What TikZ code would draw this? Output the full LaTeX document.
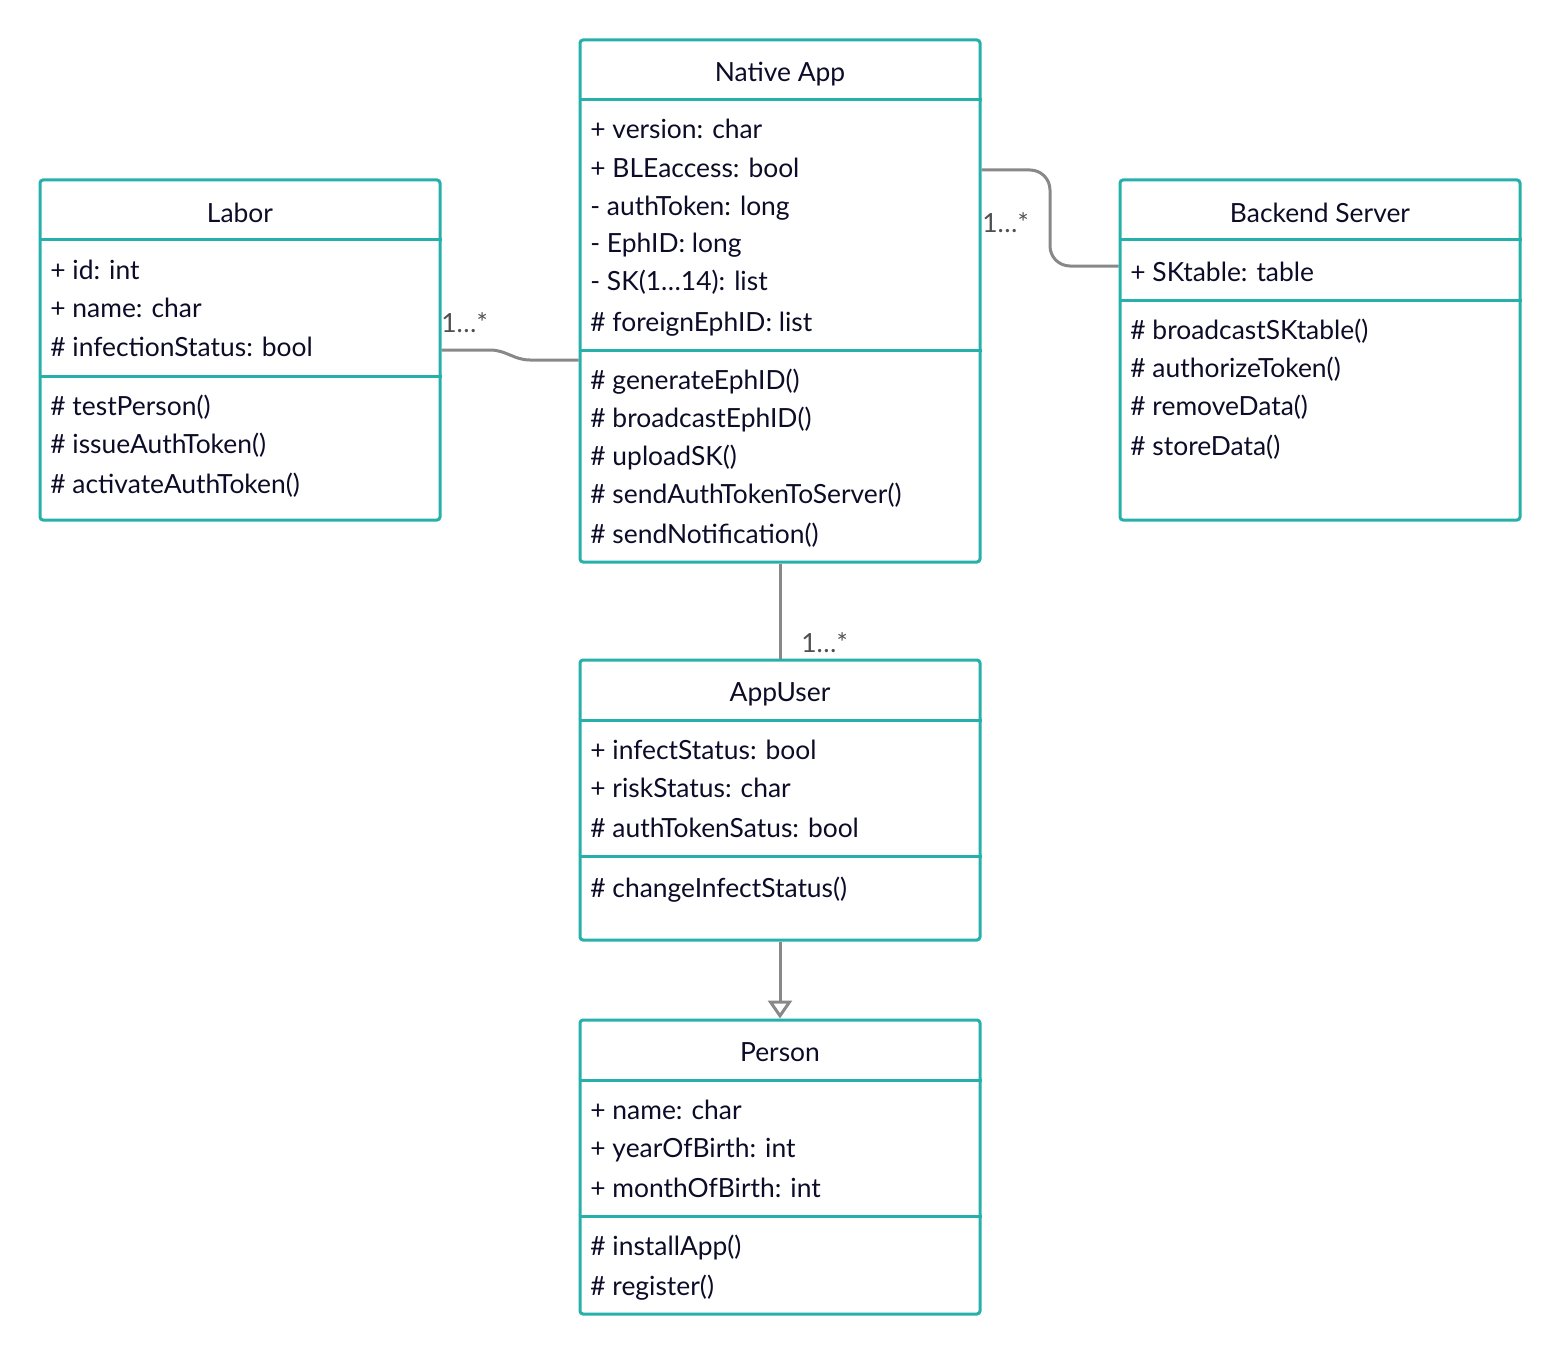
\documentclass[tikz,border=0pt]{standalone}
\usepackage{fontspec}
\setmainfont{Lato}
\usetikzlibrary{arrows.meta}
\definecolor{boxteal}{RGB}{38,176,170}
\definecolor{ink}{RGB}{12,12,40}
\definecolor{linkgray}{RGB}{136,136,136}
\definecolor{labelgray}{RGB}{80,80,80}
\begin{document}
\begin{tikzpicture}[x=0.5pt, y=-0.5pt, font=\fontsize{13.2}{16}\selectfont,
    classbox/.style={draw=boxteal, line width=1.5pt, rectangle, rounded corners=1.5pt, minimum width=200pt, inner sep=0pt},
    rule/.style={draw=boxteal, line width=1.5pt},
    title/.style={anchor=base, inner sep=0pt, text=ink},
    member/.style={anchor=base west, inner sep=0pt, text=ink},
    link/.style={draw=linkgray, line width=1.5pt},
    mult/.style={anchor=west, inner sep=0pt, text=labelgray}]
    \useasboundingbox (0,0) rectangle (1560,1354);

    % Labor
    \node (labor) [classbox, minimum height=170pt] at (240,350) {};
    \draw[rule] (labor.west |- 0,240) -- (labor.east |- 0,240);
    \draw[rule] (labor.west |- 0,376) -- (labor.east |- 0,376);
    \node (labor-title) [title] at (240,222) {Labor};
    \node (labor-a1) [member] at (50,279) {+ id: int};
    \node (labor-a2) [member] at (50,317) {+ name: char};
    \node (labor-a3) [member] at (50,357) {\# infectionStatus: bool};
    \node (labor-m1) [member] at (50,415) {\# testPerson()};
    \node (labor-m2) [member] at (50,453) {\# issueAuthToken()};
    \node (labor-m3) [member] at (50,493) {\# activateAuthToken()};

    % Native App
    \node (app) [classbox, minimum height=261pt] at (780,301) {};
    \draw[rule] (app.west |- 0,100) -- (app.east |- 0,100);
    \draw[rule] (app.west |- 0,350) -- (app.east |- 0,350);
    \node (app-title) [title] at (780,82) {Native App};
    \node (app-a1) [member] at (590,139) {+ version: char};
    \node (app-a2) [member] at (590,177) {+ BLEaccess: bool};
    \node (app-a3) [member] at (590,215) {- authToken: long};
    \node (app-a4) [member] at (590,253) {- EphID: long};
    \node (app-a5) [member] at (590,291) {- SK(1…14): list};
    \node (app-a6) [member] at (590,331) {\# foreignEphID: list};
    \node (app-m1) [member] at (590,389) {\# generateEphID()};
    \node (app-m2) [member] at (590,427) {\# broadcastEphID()};
    \node (app-m3) [member] at (590,465) {\# uploadSK()};
    \node (app-m4) [member] at (590,503) {\# sendAuthTokenToServer()};
    \node (app-m5) [member] at (590,543) {\# sendNotification()};

    % Backend Server
    \node (server) [classbox, minimum height=170pt] at (1320,350) {};
    \draw[rule] (server.west |- 0,240) -- (server.east |- 0,240);
    \draw[rule] (server.west |- 0,300) -- (server.east |- 0,300);
    \node (server-title) [title] at (1320,222) {Backend Server};
    \node (server-a1) [member] at (1130,281) {+ SKtable: table};
    \node (server-m1) [member] at (1130,339) {\# broadcastSKtable()};
    \node (server-m2) [member] at (1130,377) {\# authorizeToken()};
    \node (server-m3) [member] at (1130,415) {\# removeData()};
    \node (server-m4) [member] at (1130,455) {\# storeData()};

    % AppUser
    \node (user) [classbox, minimum height=140pt] at (780,800) {};
    \draw[rule] (user.west |- 0,720) -- (user.east |- 0,720);
    \draw[rule] (user.west |- 0,856) -- (user.east |- 0,856);
    \node (user-title) [title] at (780,701) {AppUser};
    \node (user-a1) [member] at (590,759) {+ infectStatus: bool};
    \node (user-a2) [member] at (590,797) {+ riskStatus: char};
    \node (user-a3) [member] at (590,837) {\# authTokenSatus: bool};
    \node (user-m1) [member] at (590,897) {\# changeInfectStatus()};

    % Person
    \node (person) [classbox, minimum height=147pt] at (780,1167) {};
    \draw[rule] (person.west |- 0,1080) -- (person.east |- 0,1080);
    \draw[rule] (person.west |- 0,1216) -- (person.east |- 0,1216);
    \node (person-title) [title] at (780,1061) {Person};
    \node (person-a1) [member] at (590,1119) {+ name: char};
    \node (person-a2) [member] at (590,1157) {+ yearOfBirth: int};
    \node (person-a3) [member] at (590,1197) {+ monthOfBirth: int};
    \node (person-m1) [member] at (590,1255) {\# installApp()};
    \node (person-m2) [member] at (590,1295) {\# register()};

    % associations
    \draw[link] (labor.east |- 0,350) -- (490,350) to[out=0, in=180] (530,360) -- (app.west |- 0,360);
    \draw[link, rounded corners=10pt] (app.east |- 0,170) -| (1050,266) -- (server.west |- 0,266);
    \draw[link] (app) -- (user);
    \draw[link, -{Triangle[open, length=9pt, width=12pt]}] (user) -- (person);

    \node (labor-mult) [mult] at (441,323) {1…*};
    \node (server-mult) [mult] at (982,223) {1…*};
    \node (user-mult) [mult] at (801,643) {1…*};
\end{tikzpicture}
\end{document}
